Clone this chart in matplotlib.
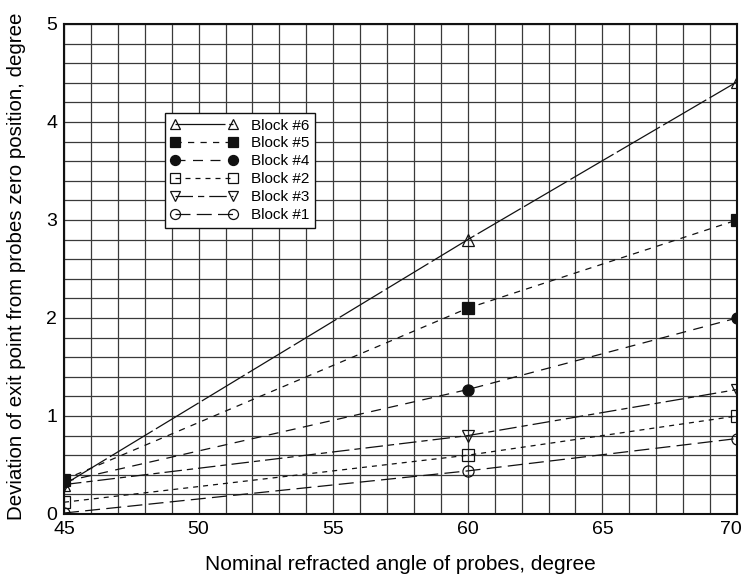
import matplotlib
matplotlib.use("Agg")
import matplotlib.pyplot as plt
import matplotlib.transforms as mtransforms
import numpy as np

# Nominal refracted angle of probes (degree)
angles = [45, 60, 70]

# Deviation of exit point (degree) for each block
block6 = [0.30, 2.80, 4.41]
block5 = [0.35, 2.10, 3.00]
block4 = [0.33, 1.27, 2.00]
block2 = [0.12, 0.60, 1.00]
block3 = [0.30, 0.80, 1.27]
block1 = [0.01, 0.44, 0.77]

series = [
    ("Block #6", block6, "^", "none", (0, (40, 3))),
    ("Block #5", block5, "s", "#111111", (0, (5, 5))),
    ("Block #4", block4, "o", "#111111", (0, (8, 6))),
    ("Block #2", block2, "s", "none", (0, (4, 4))),
    ("Block #3", block3, "v", "none", (0, (14, 4, 5, 4))),
    ("Block #1", block1, "o", "none", (0, (12, 5))),
]

plt.rcParams["font.family"] = ["Liberation Sans", "DejaVu Sans"]

fig = plt.figure(figsize=(7.45, 5.8), dpi=100)
ax = fig.add_axes([64 / 745, 66 / 580, 673 / 745, 490 / 580])

ax.set_xlim(45, 70)
ax.set_ylim(0, 5)
ax.set_xticks(np.arange(45, 71, 5))
ax.set_yticks(np.arange(0, 6, 1))
ax.set_xticks(np.arange(45, 71, 1), minor=True)
ax.set_yticks(np.arange(0, 5.01, 0.2), minor=True)
ax.grid(True, which="both", color="#3a3a3a", linewidth=0.9)
ax.set_axisbelow(True)
ax.tick_params(which="both", length=0, labelsize=14, pad=5)

for label, vals, mk, fc, ls in series:
    ax.plot(angles, vals, color="#111111", linewidth=0.9, linestyle=ls,
            marker=mk, markersize=8, markerfacecolor=fc,
            markeredgecolor="#111111", markeredgewidth=0.9, label=label)

for sp in ax.spines.values():
    sp.set_linewidth(1.5)
    sp.set_color("#111111")

# keep the last x tick label inside the figure
fig.canvas.draw()
last = ax.get_xticklabels()[-1]
last.set_transform(last.get_transform() +
                   mtransforms.ScaledTranslation(-6 / 100, 0, fig.dpi_scale_trans))

ax.set_xlabel("Nominal refracted angle of probes, degree", fontsize=15, labelpad=12)
ax.set_ylabel("Deviation of exit point from probes zero position, degree",
              fontsize=14.8)
ax.yaxis.set_label_coords(-0.057, 0.506)

leg = ax.legend(loc="upper left", bbox_to_anchor=(0.15, 0.818), fontsize=11,
                frameon=True, fancybox=False, edgecolor="#111111",
                framealpha=1, numpoints=2, handlelength=4.4, handletextpad=0.9,
                labelspacing=0.26, borderpad=0.35, borderaxespad=0,
                markerscale=0.9)
leg.get_frame().set_linewidth(1.0)

fig.savefig("out.png", dpi=100)
